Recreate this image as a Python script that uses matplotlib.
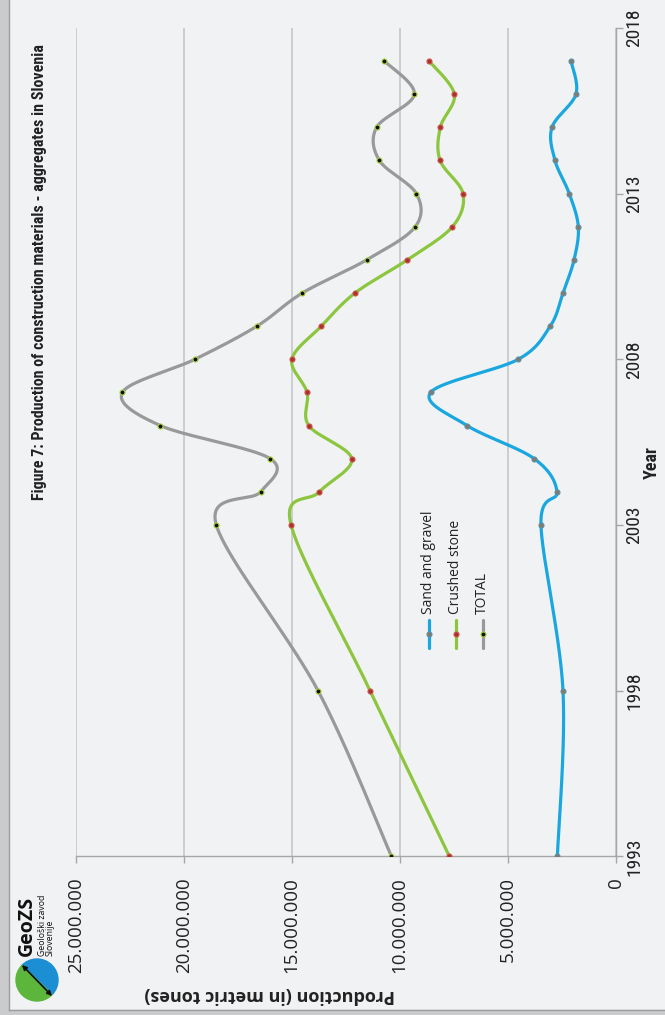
import numpy as np
import matplotlib
matplotlib.use("Agg")
import matplotlib.pyplot as plt
from matplotlib import font_manager
from matplotlib.patches import Wedge, Rectangle
from matplotlib.ticker import FuncFormatter

# Production of aggregates in Slovenia (metric tonnes)
years = [1993, 1998, 2003, 2004, 2005, 2006, 2007, 2008, 2009,
         2010, 2011, 2012, 2013, 2014, 2015, 2016, 2017]
sand_gravel = [2.70, 2.44, 3.46, 2.72, 3.77, 6.88, 8.57, 4.51, 3.03,
               2.44, 1.93, 1.73, 2.15, 2.81, 2.95, 1.84, 2.07]
crushed_stone = [7.70, 11.37, 15.03, 13.72, 12.22, 14.21, 14.29, 14.99, 13.63,
                 12.07, 9.65, 7.56, 7.07, 8.13, 8.12, 7.47, 8.64]
total = [10.38, 13.78, 18.49, 16.44, 15.99, 21.08, 22.84, 19.48, 16.61,
         14.51, 11.53, 9.28, 9.23, 10.94, 11.07, 9.32, 10.71]
series_names = ["Sand and gravel", "Crushed stone", "TOTAL"]
year_ticks = [1993, 1998, 2003, 2008, 2013, 2018]
prod_ticks = [0, 5e6, 10e6, 15e6, 20e6, 25e6]


def pick_font(names):
    installed = {f.name for f in font_manager.fontManager.ttflist}
    for n in names:
        if n in installed:
            return n
    return "DejaVu Sans"


narrow = pick_font(["Liberation Sans Narrow", "Roboto Condensed", "Open Sans", "DejaVu Sans"])
body = pick_font(["Open Sans", "Noto Sans", "DejaVu Sans"])


def smooth(xv, yv, sx, sy, n=40):
    # Catmull-Rom style bezier smoothing done in screen-like units
    p = np.column_stack([np.asarray(xv) * sx, np.asarray(yv) * sy])
    p = np.vstack([p[0], p, p[-1]])
    out = []
    for i in range(1, len(p) - 2):
        p0, p1, p2, p3 = p[i - 1], p[i], p[i + 1], p[i + 2]
        c1 = p1 + (p2 - p0) / 6.0
        c2 = p2 - (p3 - p1) / 6.0
        t = np.linspace(0, 1, n)[:, None]
        seg = ((1 - t) ** 3) * p1 + 3 * ((1 - t) ** 2) * t * c1 + 3 * (1 - t) * t ** 2 * c2 + t ** 3 * p2
        out.append(seg if i == 1 else seg[1:])
    out = np.vstack(out)
    return out[:, 0] / sx, out[:, 1] / sy


W, H = 665, 1015
fig = plt.figure(figsize=(W / 100, H / 100), dpi=100)
bg = "#F1F2F4"
fig.patch.set_facecolor(bg)

left, right, top, bottom = 75.7, 615.7, 27.9, 856.4
ax = fig.add_axes([left / W, 1 - bottom / H, (right - left) / W, (bottom - top) / H])
ax.set_facecolor("none")

styles = [
    dict(color="#1AA7E0", mfc="#7F7C6C", mec="#5E8FA8"),
    dict(color="#8CC63F", mfc="#A5342A", mec="#D0524A"),
    dict(color="#999999", mfc="#111111", mec="#A8D23A"),
]
# pixels per tonne and per year, so the smoothing follows the drawn shape
sx = 108 / 5e6
sy = 33.14
for vals, st in zip([sand_gravel, crushed_stone, total], styles):
    v = np.array(vals) * 1e6
    xs, ys = smooth(v, years, sx, sy)
    ax.plot(xs, ys, color=st["color"], lw=2.3, solid_capstyle="round", zorder=3)
    ax.plot(v, years, ls="none", marker="o", ms=3.6, mfc=st["mfc"], mec=st["mec"],
            mew=0.8, zorder=4)

ax.set_xlim(25e6, 0)
ax.set_ylim(1993, 2018)
ax.set_xticks(prod_ticks)
ax.set_yticks(year_ticks)
ax.xaxis.set_major_formatter(FuncFormatter(lambda v, _: f"{v:,.0f}".replace(",", ".")))
ax.yaxis.tick_right()

for s in ["top", "left"]:
    ax.spines[s].set_visible(False)
for s in ["right", "bottom"]:
    ax.spines[s].set_color("#A6A6A6")
    ax.spines[s].set_linewidth(1.0)
ax.grid(axis="x", color="#C3C4C6", lw=1.1)
ax.set_axisbelow(True)
ax.tick_params(axis="x", direction="out", length=5, width=1, color="#A6A6A6", pad=10)
ax.tick_params(axis="y", direction="out", length=5, width=1, color="#A6A6A6", pad=2)
for lab in ax.get_xticklabels():
    lab.set_rotation(90)
    lab.set_fontfamily(body)
    lab.set_fontsize(13.5)
    lab.set_color("#222222")
for lab in ax.get_yticklabels():
    lab.set_rotation(90)
    lab.set_fontfamily(narrow)
    lab.set_fontsize(14)
    lab.set_color("#222222")
    lab.set_va("center")

# legend drawn upright along the rotated layout
leg_x = [0.654, 0.704, 0.754]
for xl, st, name in zip(leg_x, styles, series_names):
    ax.plot([xl, xl], [0.251, 0.285], transform=ax.transAxes, color=st["color"], lw=2.3,
            solid_capstyle="round", clip_on=False)
    ax.plot([xl], [0.268], transform=ax.transAxes, marker="o", ms=3.6, mfc=st["mfc"],
            mec=st["mec"], mew=0.8, clip_on=False)
    ax.text(xl, 0.292, name, transform=ax.transAxes, rotation=90, ha="center", va="bottom",
            fontsize=10, family=body, color="#222222")

# titles
fig.text(40 / W, 1 - 500 / H, "Figure 7: Production of construction materials - aggregates in Slovenia",
         rotation=90, ha="center", va="bottom", fontsize=11.5, fontweight="bold", family=narrow,
         color="#222222")
fig.text(652 / W, 1 - 463 / H, "Year", rotation=90, ha="center", va="center",
         fontsize=13, fontweight="bold", family=narrow, color="#222222")
fig.text(270 / W, 1 - 995 / H, "Production (in metric tones)", rotation=180, ha="center",
         va="center", fontsize=13, fontweight="bold", family=body, color="#222222")

# frame strips and logo
deco = fig.add_axes([0, 0, 1, 1], zorder=-1)
deco.set_xlim(0, W)
deco.set_ylim(0, H)
deco.axis("off")
deco.add_patch(Rectangle((0, 0), 8, H, color="#CACBCD"))
deco.plot([8.5, 8.5], [5, H], color="#9C9C9C", lw=1)
deco.add_patch(Rectangle((0, 0), W, 5, color="#CACBCD"))
deco.plot([8.5, W], [5.5, 5.5], color="#9C9C9C", lw=1)

logo = fig.add_axes([0, 0, 1, 1], zorder=5)
logo.set_xlim(0, W)
logo.set_ylim(0, H)
logo.axis("off")
cx, cy, r = 37, 35, 21
logo.add_patch(Wedge((cx, cy), r, -44, 136, color="#1C8ED3"))
logo.add_patch(Wedge((cx, cy), r, 136, 316, color="#5CB63C"))
logo.annotate("", xy=(54, 17), xytext=(20, 52),
              arrowprops=dict(arrowstyle="<|-|>", color="#111111", lw=1.2, mutation_scale=7))
logo.text(27, 59, "GeoZS", rotation=90, ha="center", va="bottom", fontsize=14,
          fontweight="bold", family=body, color="#111111")
logo.text(42.5, 59, "Geološki zavod", rotation=90, ha="center", va="bottom", fontsize=6.3,
          family=body, color="#111111")
logo.text(50.5, 59, "Slovenije", rotation=90, ha="center", va="bottom", fontsize=6.3,
          family=body, color="#111111")

fig.savefig("out.png", dpi=100, facecolor=bg)
